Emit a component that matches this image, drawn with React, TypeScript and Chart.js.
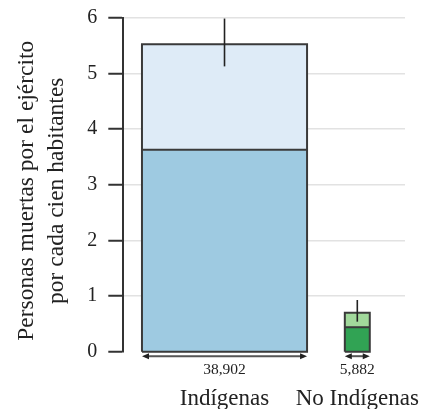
import React, { useEffect, useRef } from 'react';
import { Chart, registerables } from 'chart.js';

Chart.register(...registerables);

// ---- data ----
const categories = ['Indígenas', 'No Indígenas'];
const population = [38902, 5882];
const lowerValues = [3.63, 0.44];
const totalValues = [5.53, 0.7];
const errorLow = [5.13, 0.54];
const errorHigh = [5.99, 0.93];
const yTickValues = [0, 1, 2, 3, 4, 5, 6];
const yTitle = ['Personas muertas por el ejército  ', 'por cada cien habitantes  '];

// ---- styles / layout (in population units along x) ----
const lowerColors = ['#9ecae1', '#31a354'];
const upperColors = ['#deebf7', '#a1d99b'];
const EDGE = '#3a3a3a';
const TEXT = '#222222';
const X_LEAD = 4400;
const X_GAP = 8900;
const X_TAIL = 8300;

const starts: number[] = [];
const ends: number[] = [];
population.forEach((p, i) => {
  const s = i === 0 ? X_LEAD : ends[i - 1] + X_GAP;
  starts.push(s);
  ends.push(s + p);
});
const centers = starts.map((s, i) => (s + ends[i]) / 2);
const X_MAX = ends[ends.length - 1] + X_TAIL;

const FONT = "'Liberation Serif', 'Times New Roman', serif";

const arrowPlugin = {
  id: 'popArrows',
  afterDraw(chart: any) {
    const { ctx, chartArea } = chart;
    const xs = chart.scales.x;
    const y = chartArea.bottom + 4.5;
    ctx.save();
    ctx.strokeStyle = '#555';
    ctx.fillStyle = '#222';
    ctx.lineWidth = 2;
    starts.forEach((s, i) => {
      const x0 = xs.getPixelForValue(s);
      const x1 = xs.getPixelForValue(ends[i]);
      ctx.beginPath();
      ctx.moveTo(x0 + 3, y);
      ctx.lineTo(x1 - 3, y);
      ctx.stroke();
      ctx.beginPath();
      ctx.moveTo(x0, y);
      ctx.lineTo(x0 + 7, y - 3);
      ctx.lineTo(x0 + 7, y + 3);
      ctx.closePath();
      ctx.fill();
      ctx.beginPath();
      ctx.moveTo(x1, y);
      ctx.lineTo(x1 - 7, y - 3);
      ctx.lineTo(x1 - 7, y + 3);
      ctx.closePath();
      ctx.fill();
    });
    ctx.restore();
  },
};

function buildDatasets() {
  const top: any[] = [];
  const lowerFills: any[] = [];
  const upperFills: any[] = [];
  const base = { pointRadius: 0, pointHoverRadius: 0, tension: 0, clip: false as any };
  starts.forEach((s, i) => {
    const e = ends[i];
    // error bar
    top.push({
      ...base,
      data: [
        { x: centers[i], y: errorLow[i] },
        { x: centers[i], y: errorHigh[i] },
      ],
      borderColor: '#222',
      borderWidth: 1.6,
      fill: false,
    });
    // outline
    top.push({
      ...base,
      data: [
        { x: s, y: 0 },
        { x: s, y: totalValues[i] },
        { x: e, y: totalValues[i] },
        { x: e, y: 0 },
        { x: s, y: 0 },
      ],
      borderColor: EDGE,
      borderWidth: 2,
      fill: false,
    });
    // division line
    top.push({
      ...base,
      data: [
        { x: s, y: lowerValues[i] },
        { x: e, y: lowerValues[i] },
      ],
      borderColor: EDGE,
      borderWidth: 2,
      fill: false,
    });
    lowerFills.push({
      ...base,
      data: [
        { x: s, y: lowerValues[i] },
        { x: e, y: lowerValues[i] },
      ],
      borderWidth: 0,
      borderColor: 'rgba(0,0,0,0)',
      backgroundColor: lowerColors[i],
      fill: 'origin',
    });
    upperFills.push({
      ...base,
      data: [
        { x: s, y: totalValues[i] },
        { x: e, y: totalValues[i] },
      ],
      borderWidth: 0,
      borderColor: 'rgba(0,0,0,0)',
      backgroundColor: upperColors[i],
      fill: 'origin',
    });
  });
  return [...top, ...lowerFills, ...upperFills];
}

export default function App() {
  const ref = useRef<HTMLCanvasElement | null>(null);
  useEffect(() => {
    if (!ref.current) return;
    Chart.defaults.font.family = FONT;
    const chart = new Chart(ref.current, {
      type: 'line',
      data: { datasets: buildDatasets() },
      plugins: [arrowPlugin],
      options: {
        responsive: false,
        animation: false,
        events: [],
        layout: { padding: { top: 18, right: 19, bottom: 5, left: 11.2 } },
        plugins: { legend: { display: false }, tooltip: { enabled: false } },
        scales: {
          x: {
            type: 'linear',
            position: 'bottom',
            min: 0,
            max: X_MAX,
            grid: { display: false, drawTicks: false },
            border: { display: false },
            afterBuildTicks: (axis: any) => {
              axis.ticks = centers.map((v) => ({ value: v }));
            },
            ticks: {
              autoSkip: false,
              maxRotation: 0,
              padding: 9,
              color: TEXT,
              font: { size: 15.5, lineHeight: 1.2 },
              callback: (_v: any, i: number) => population[i].toLocaleString('en-US'),
            },
          },
          x2: {
            type: 'linear',
            position: 'bottom',
            min: 0,
            max: X_MAX,
            grid: { display: false, drawTicks: false },
            border: { display: false },
            afterBuildTicks: (axis: any) => {
              axis.ticks = centers.map((v) => ({ value: v }));
            },
            ticks: {
              autoSkip: false,
              maxRotation: 0,
              padding: 0,
              color: TEXT,
              font: { size: 23, lineHeight: 0.9 },
              callback: (_v: any, i: number) => categories[i],
            },
          },
          y: {
            type: 'linear',
            min: 0,
            max: 6,
            afterBuildTicks: (axis: any) => {
              axis.ticks = yTickValues.map((v) => ({ value: v }));
            },
            grid: {
              color: (c: any) => (c.tick && c.tick.value === 0 ? 'rgba(0,0,0,0)' : '#e2e2e2'),
              lineWidth: 1.5,
              tickColor: '#333',
              tickWidth: 2,
              tickLength: 15,
            } as any,
            border: { display: true, color: '#333', width: 2 },
            ticks: { color: TEXT, font: { size: 20, lineHeight: 0.6 }, padding: 11 },
            title: {
              display: true,
              text: yTitle,
              color: TEXT,
              font: { size: 23.5, lineHeight: 1.3 },
              padding: { top: 0, bottom: 4 },
            },
          },
        },
      } as any,
    });
    return () => chart.destroy();
  }, []);
  return (
    <div style={{ position: 'absolute', left: 0, top: 0, width: 424, height: 414 }}>
      <canvas ref={ref} width={424} height={414} />
    </div>
  );
}
